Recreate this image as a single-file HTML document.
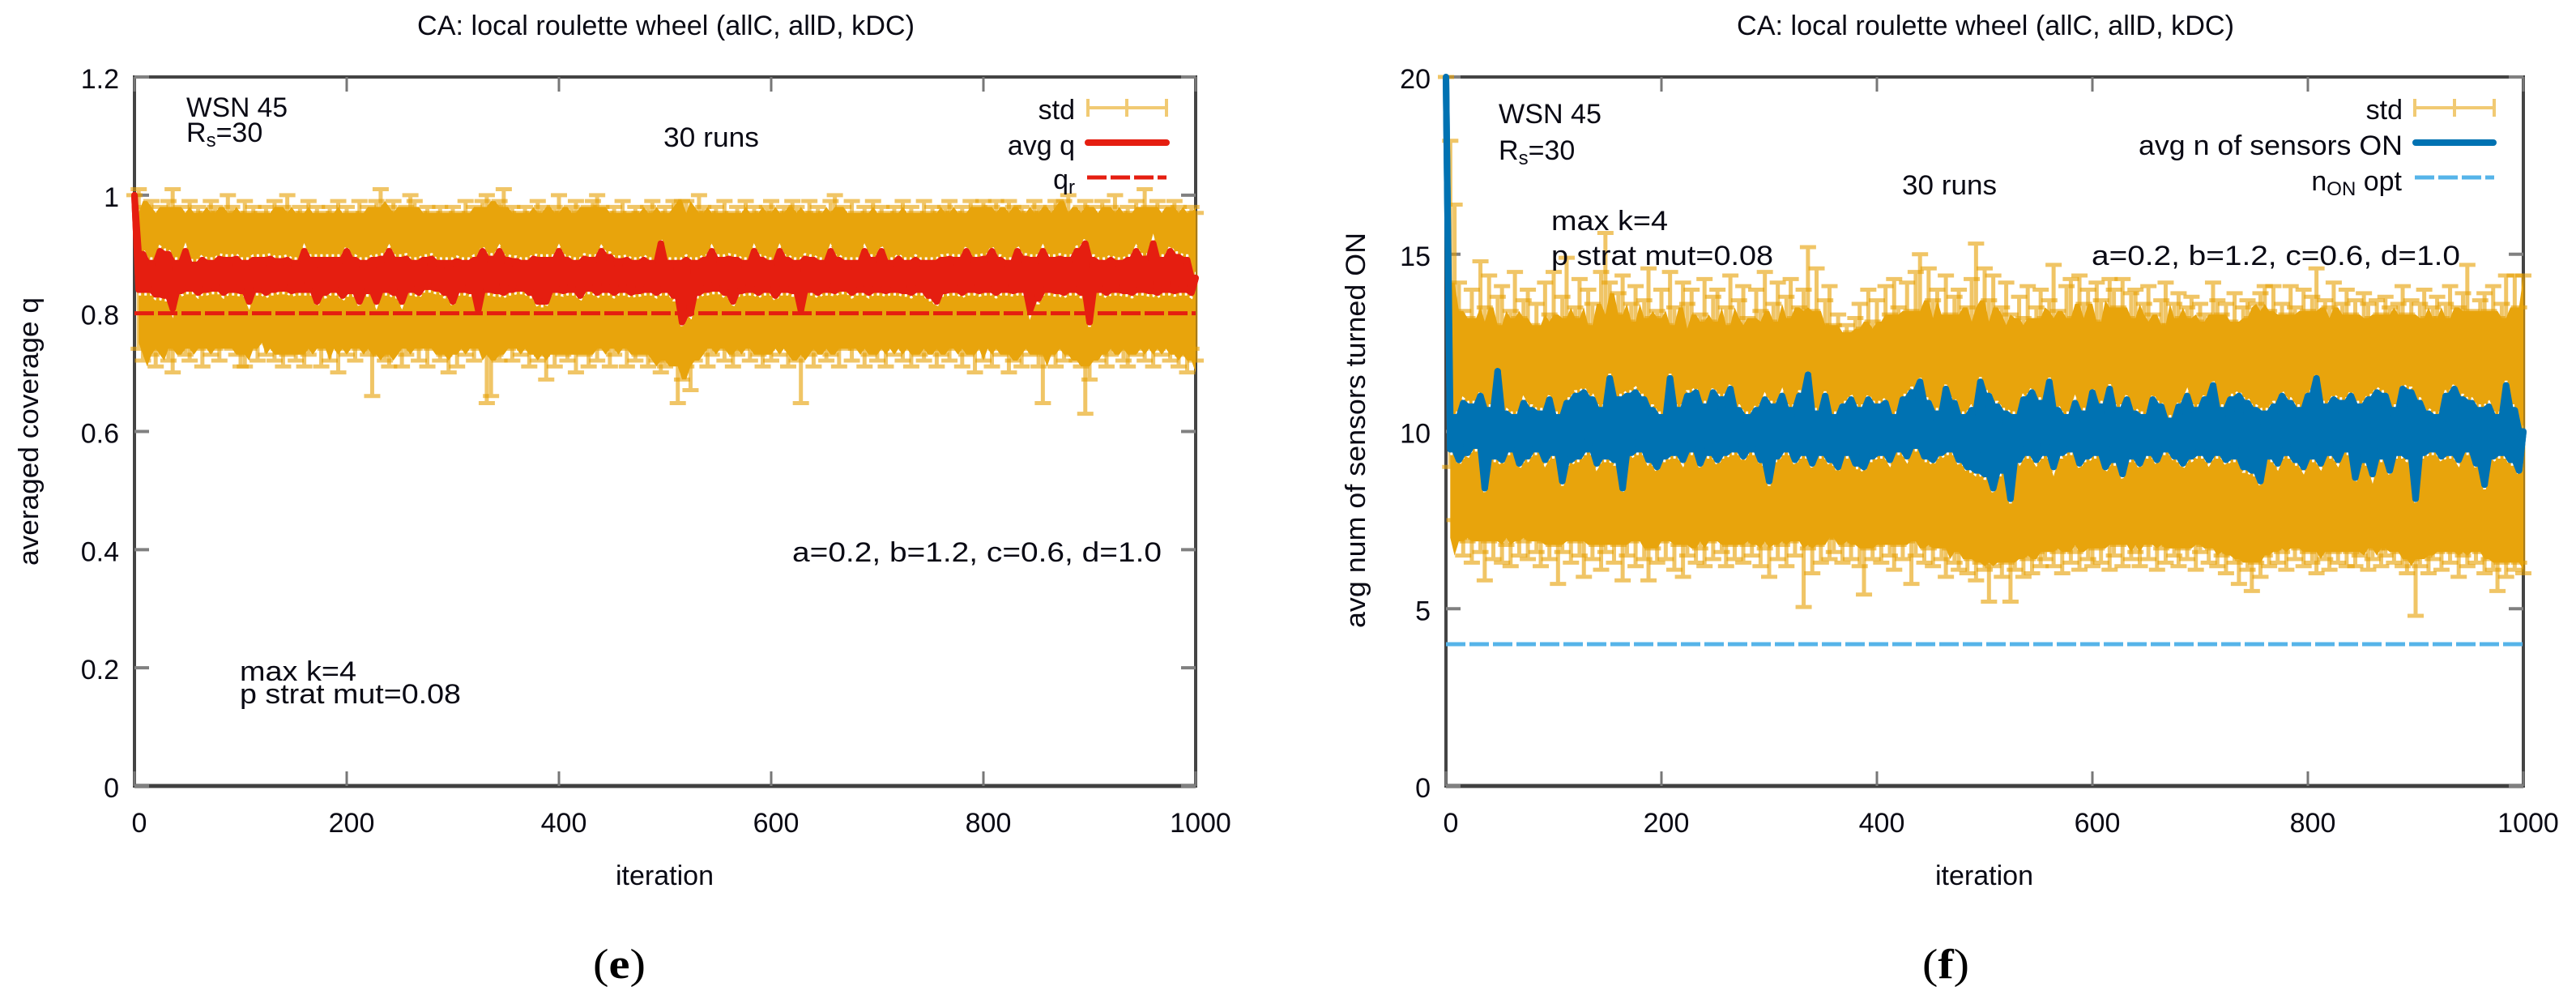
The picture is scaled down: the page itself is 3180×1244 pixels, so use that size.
<!DOCTYPE html>
<html lang="en">
<head>
<meta charset="utf-8">
<title>CA: local roulette wheel (allC, allD, kDC)</title>
<style>
html,body{margin:0;padding:0;background:#fff;}
svg{display:block;}
text{font-family:"Liberation Sans",sans-serif;font-size:34px;fill:#0a0a14;}
.cap{font-family:"Liberation Serif",serif;font-size:52px;fill:#000;}
</style>
</head>
<body>
<svg id="chart" xmlns="http://www.w3.org/2000/svg" width="3180" height="1244" viewBox="0 0 3180 1244">
<rect x="0" y="0" width="3180" height="1244" fill="#fff"/>
<g id="panelE"></g>
<g id="panelF"></g>

<g>
<text x="515" y="43" textLength="614" lengthAdjust="spacingAndGlyphs">CA: local roulette wheel (allC, allD, kDC)</text>
<text transform="translate(47,698) rotate(-90)" textLength="331" lengthAdjust="spacingAndGlyphs">averaged coverage q</text>
<text x="760" y="1092" textLength="121" lengthAdjust="spacingAndGlyphs">iteration</text>
<text x="230" y="144" textLength="125" lengthAdjust="spacingAndGlyphs">WSN 45</text>
<text x="230" y="175">R<tspan font-size="24" dy="6">s</tspan><tspan dy="-6">=30</tspan></text>
<text x="819" y="181" textLength="118" lengthAdjust="spacingAndGlyphs">30 runs</text>
<text x="978" y="693" textLength="456" lengthAdjust="spacingAndGlyphs">a=0.2, b=1.2, c=0.6, d=1.0</text>
<text x="296" y="840" textLength="144" lengthAdjust="spacingAndGlyphs">max k=4</text>
<text x="296" y="868" textLength="273" lengthAdjust="spacingAndGlyphs">p strat mut=0.08</text>
<text x="1327" y="147" text-anchor="end">std</text>
<text x="1327" y="191" text-anchor="end">avg q</text>
<text x="1327" y="233" text-anchor="end">q<tspan font-size="24" dy="6">r</tspan></text>
<g stroke="#e69f00" stroke-opacity=".55" stroke-width="4" fill="none"><path d="M1343 133H1440M1343 122V144M1391 122V144M1440 122V144"/></g>
<line x1="1343" y1="176" x2="1440" y2="176" stroke="#e51e10" stroke-width="8" stroke-linecap="round"/>
<line x1="1342" y1="219" x2="1440" y2="219" stroke="#e51e10" stroke-width="5" stroke-dasharray="24 5"/>
<text class="cap" x="732" y="1207" textLength="65" lengthAdjust="spacingAndGlyphs">(<tspan font-weight="bold">e</tspan>)</text>
</g>

<g>
<text x="2144" y="43" textLength="614" lengthAdjust="spacingAndGlyphs">CA: local roulette wheel (allC, allD, kDC)</text>
<text transform="translate(1685,775) rotate(-90)" textLength="488" lengthAdjust="spacingAndGlyphs">avg num of sensors turned ON</text>
<text x="2389" y="1092" textLength="121" lengthAdjust="spacingAndGlyphs">iteration</text>
<text x="1850" y="152" textLength="127" lengthAdjust="spacingAndGlyphs">WSN 45</text>
<text x="1850" y="197">R<tspan font-size="24" dy="6">s</tspan><tspan dy="-6">=30</tspan></text>
<text x="2348" y="240" textLength="117" lengthAdjust="spacingAndGlyphs">30 runs</text>
<text x="1915" y="284" textLength="144" lengthAdjust="spacingAndGlyphs">max k=4</text>
<text x="1915" y="327" textLength="274" lengthAdjust="spacingAndGlyphs">p strat mut=0.08</text>
<text x="2582" y="327" textLength="455" lengthAdjust="spacingAndGlyphs">a=0.2, b=1.2, c=0.6, d=1.0</text>
<text x="2966" y="147" text-anchor="end">std</text>
<text x="2966" y="191" text-anchor="end" textLength="326" lengthAdjust="spacingAndGlyphs">avg n of sensors ON</text>
<text x="2965" y="235" text-anchor="end">n<tspan font-size="24" dy="6">ON</tspan><tspan dy="-6"> opt</tspan></text>
<g stroke="#e69f00" stroke-opacity=".55" stroke-width="4" fill="none"><path d="M2981 133H3079M2981 122V144M3030 122V144M3079 122V144"/></g>
<line x1="2982" y1="176" x2="3078" y2="176" stroke="#0072b2" stroke-width="8" stroke-linecap="round"/>
<line x1="2981" y1="219" x2="3079" y2="219" stroke="#56b4e9" stroke-width="5" stroke-dasharray="24 5"/>
<text class="cap" x="2373" y="1207" textLength="58" lengthAdjust="spacingAndGlyphs">(<tspan font-weight="bold">f</tspan>)</text>
</g>
</svg>

<script>
// Iterations between consecutive stored samples
const sampleStep = 4;
// Leading samples that belong to the start-up transient
const transientSamples = 3;

const xTickValues = [0, 200, 400, 600, 800, 1000];
const xTickLabels = ['0', '200', '400', '600', '800', '1000'];

const yTickValuesQ = [0, 0.2, 0.4, 0.6, 0.8, 1, 1.2];
const yTickLabelsQ = ['0', '0.2', '0.4', '0.6', '0.8', '1', '1.2'];
const yTickValuesN = [0, 5, 10, 15, 20];
const yTickLabelsN = ['0', '5', '10', '15', '20'];

const targetQ = [0.8];
const optimalN = [4];

const avgQ = [
1.0,.84,.90,.84,.885,.832,.905,.83,.90,.808,
.885,.838,.905,.842,.882,.835,.89,.84,.885,.842,
.892,.835,.89,.84,.892,.838,.885,.82,.89,.84,
.89,.835,.892,.84,.888,.842,.89,.838,.885,.84,
.905,.84,.89,.82,.89,.835,.89,.84,.89,.83,
.905,.838,.89,.82,.885,.838,.89,.82,.892,.84,
.905,.835,.89,.82,.892,.84,.885,.835,.89,.845,
.892,.842,.885,.835,.885,.82,.888,.84,.885,.838,
.89,.805,.905,.84,.892,.838,.905,.835,.89,.84,
.888,.842,.885,.835,.892,.82,.89,.82,.89,.84,
.905,.838,.89,.84,.885,.83,.892,.842,.89,.835,
.905,.84,.895,.835,.888,.84,.89,.835,.885,.838,
.89,.84,.885,.835,.918,.84,.885,.83,.885,.785,
.89,.80,.885,.835,.89,.84,.905,.842,.89,.835,
.892,.82,.89,.838,.885,.84,.905,.835,.89,.84,
.885,.83,.905,.84,.89,.838,.885,.805,.892,.84,
.89,.835,.885,.84,.905,.838,.89,.842,.885,.835,
.885,.84,.905,.835,.89,.84,.905,.838,.885,.84,
.892,.838,.885,.835,.89,.84,.885,.83,.885,.82,
.89,.838,.892,.84,.89,.835,.905,.84,.89,.838,
.892,.84,.905,.835,.89,.84,.885,.838,.905,.84,
.892,.805,.89,.825,.905,.84,.89,.838,.892,.835,
.89,.84,.905,.835,.918,.785,.89,.84,.885,.835,
.89,.84,.885,.838,.89,.835,.905,.84,.892,.838,
.918,.835,.89,.84,.905,.838,.895,.84,.89,.835,.86
];

const highQ = [
1.0,1.01,.98,.97,.99,.96,.98,.97,.99,1.01,
.97,.98,.96,.99,.97,.98,.96,.97,.99,.98,
.97,.96,1.0,.98,.97,.96,.99,.97,.98,.96,
.97,.98,.96,.99,.97,.98,1.0,.97,.96,.98,
.97,.99,.96,.98,.97,.96,.98,.97,.99,.96,
.98,.97,.96,.99,.97,.98,.96,.99,1.01,.97,
.98,.99,.97,.96,.98,1.0,.99,.97,.96,.98,
.97,.96,.98,.97,.96,.98,.97,.96,.99,.97,
.98,.96,.99,1.0,.97,.98,.99,1.01,.97,.98,
.96,.97,.98,.96,.97,.99,.98,.96,.97,.98,
1.0,.97,.96,.98,.99,.97,.96,.98,.99,1.0,
.98,.97,.96,.98,.97,.99,.96,.97,.98,.97,
.96,.98,.99,.97,.96,.98,.97,.99,.96,.99,
.99,.96,.97,1.0,.98,.97,.96,.98,.97,.99,
.96,.97,.98,.96,.99,.97,.98,.96,.97,.98,
.99,.97,.96,.98,.97,.99,.98,.96,.97,.99,
.97,.98,.96,.97,.99,1.0,.97,.98,.96,.99,
.97,.96,.98,.97,.99,.96,.98,.97,.96,.98,
.97,.99,.96,.98,.97,.96,.99,.97,.98,.96,
.97,.98,.99,.97,.96,.98,.97,.99,.96,.98,
.99,.97,.98,.99,.97,.96,.99,.98,.97,.98,
.96,.97,.99,.98,.97,.96,.98,.99,.97,.99,
1.0,.97,.96,.98,.99,.97,.98,.96,.99,.97,
.98,1.0,.97,.96,.98,.97,.99,.96,1.01,.98,
.97,.99,.96,.98,.97,.99,.98,.96,.97,.98,.97
];

const lowQ = [
1.0,.74,.72,.75,.73,.71,.74,.76,.72,.70,
.74,.75,.73,.72,.76,.74,.71,.75,.73,.74,
.72,.75,.76,.74,.73,.71,.71,.74,.75,.72,
.76,.73,.75,.72,.74,.71,.73,.75,.72,.74,
.71,.73,.76,.75,.71,.74,.72,.76,.70,.74,
.73,.75,.72,.74,.76,.73,.66,.75,.73,.72,
.71,.74,.75,.71,.73,.76,.74,.72,.75,.71,
.74,.76,.72,.73,.70,.75,.71,.74,.73,.76,
.72,.74,.75,.648,.66,.73,.72,.75,.74,.72,
.76,.73,.74,.71,.75,.72,.73,.688,.74,.71,
.75,.73,.72,.74,.70,.76,.73,.71,.75,.72,
.74,.75,.71,.73,.76,.74,.71,.75,.72,.73,
.76,.71,.74,.72,.70,.71,.73,.72,.648,.688,
.71,.67,.72,.74,.75,.71,.73,.76,.74,.72,
.75,.71,.73,.74,.76,.72,.75,.73,.71,.74,
.72,.76,.73,.75,.71,.74,.72,.648,.75,.73,
.71,.74,.76,.72,.73,.75,.71,.74,.76,.72,
.74,.75,.71,.73,.76,.72,.74,.71,.75,.73,
.76,.72,.74,.71,.75,.73,.72,.76,.74,.71,
.73,.75,.72,.74,.76,.71,.73,.75,.70,.74,
.72,.75,.71,.74,.73,.76,.70,.72,.75,.71,
.74,.73,.76,.71,.648,.73,.75,.71,.74,.72,
.75,.73,.72,.71,.63,.688,.74,.72,.75,.71,
.73,.76,.74,.72,.71,.75,.73,.74,.72,.76,
.71,.74,.73,.75,.72,.76,.71,.73,.70,.74,.72
];

const avgN = [
20,9.5,10.4,9.2,10.8,9.4,10.7,9.6,11.0,8.4,
10.6,9.3,11.7,9.2,10.5,9.5,10.4,9.1,10.8,9.3,
10.6,9.5,10.5,9.2,10.9,9.4,10.4,8.6,10.8,9.2,
11.0,9.3,11.1,9.5,10.9,9.1,10.6,9.3,11.5,9.2,
10.9,8.4,11.0,9.4,11.1,9.5,10.9,9.2,10.6,9.0,
10.4,9.3,11.5,9.4,10.6,9.2,11.0,9.5,11.1,9.1,
10.7,9.4,11.1,9.2,10.9,9.4,11.2,9.5,10.6,9.3,
10.4,9.5,10.6,9.2,10.9,8.6,10.7,9.3,11.0,9.5,
10.6,9.2,11.0,9.4,11.6,9.1,10.5,9.4,11.0,9.2,
10.4,9.0,10.7,9.4,10.9,9.1,10.6,9.0,10.9,9.3,
10.7,9.4,10.8,9.2,10.4,9.5,10.9,9.3,11.1,9.6,
11.4,9.3,10.8,9.2,10.5,9.4,11.2,9.5,10.8,9.2,
10.4,9.0,10.6,8.9,11.4,8.8,11.0,8.4,10.7,8.9,
10.5,8.1,10.4,9.2,10.9,9.4,11.1,9.2,10.8,9.4,
11.4,9.0,10.6,9.4,10.4,9.5,10.8,9.1,10.5,9.3,
11.1,9.4,10.7,9.0,11.2,9.2,10.6,8.8,10.9,9.3,
10.5,9.1,10.4,9.4,10.9,9.2,10.7,9.5,10.3,9.3,
10.7,9.1,11.0,9.3,10.6,9.4,10.9,9.2,11.3,9.4,
10.6,9.2,10.9,9.3,11.0,9.0,10.8,8.9,10.6,8.6,
10.5,9.3,10.7,9.1,11.0,9.4,10.8,9.2,10.6,9.0,
11.0,9.3,11.5,9.1,10.7,9.4,10.9,9.2,10.8,9.5,
11.0,8.7,10.7,9.2,10.9,8.8,11.1,9.3,11.0,8.9,
10.6,9.4,11.2,9.3,11.1,8.1,10.8,9.4,10.5,9.5,
10.4,9.3,11.0,9.4,11.2,9.2,10.9,9.5,10.8,9.1,
10.6,8.5,10.7,9.3,10.4,9.4,11.3,9.2,10.6,8.9,10.0
];

const highN = [
20,18.2,16.4,14.2,13.4,13.2,14.0,13.1,14.8,13.5,
14.4,13.0,13.8,14.1,12.9,13.4,14.5,13.2,13.7,14.0,
13.0,13.6,12.9,14.2,13.3,14.5,13.1,13.8,14.9,13.2,
13.5,14.3,13.0,14.0,13.6,12.9,14.5,15.6,14.2,13.3,
13.9,14.4,13.1,13.6,14.1,12.8,13.7,14.6,13.2,13.4,
14.0,13.0,14.5,13.5,12.9,14.2,13.6,14.0,12.9,13.3,
14.3,13.1,13.8,14.0,12.8,13.5,14.4,13.0,13.7,14.1,
13.2,12.9,14.0,13.4,14.5,13.1,13.6,14.2,13.0,13.8,
14.3,13.2,13.5,14.0,15.2,13.4,14.6,13.0,13.7,14.1,
13.0,13.3,12.7,13.0,12.8,13.2,13.6,12.9,14.0,13.1,
13.7,12.9,14.1,13.3,14.3,13.5,13.0,14.2,13.4,14.5,
15.0,13.2,14.6,13.7,14.0,13.0,14.4,13.3,13.8,14.0,
12.9,13.5,14.3,15.3,13.1,14.6,13.7,14.4,13.0,13.5,
14.2,13.3,12.9,13.8,13.2,14.1,13.0,13.5,14.0,13.2,
13.7,14.7,13.4,13.0,14.1,14.3,13.2,14.4,13.6,14.0,
13.1,14.2,13.7,13.0,14.3,14.0,13.5,14.3,13.2,13.9,
14.0,13.1,13.6,14.1,13.3,13.0,13.7,14.2,13.0,13.6,
13.9,13.2,13.5,13.8,13.1,13.6,13.3,13.0,14.2,13.7,
13.3,13.6,13.1,13.9,13.0,13.5,13.7,13.2,13.6,13.9,
14.1,13.4,14.1,13.0,13.6,13.3,14.1,13.5,13.1,14.0,
13.4,13.8,14.6,13.2,13.7,13.5,14.2,13.1,13.6,14.0,
13.3,13.7,13.0,13.9,13.6,13.2,13.7,13.3,13.8,13.5,
13.0,13.6,14.1,13.3,13.7,13.1,13.6,14.0,13.2,13.5,
13.8,13.2,13.6,14.1,13.0,13.5,13.9,14.7,13.4,13.1,
13.7,13.9,13.4,14.1,13.2,13.6,14.4,13.0,14.4,13.5,14.4
];

const lowN = [
20,9.0,7.5,7.0,6.5,6.9,6.3,7.0,6.6,5.8,
6.9,6.4,7.0,6.3,6.8,6.2,7.1,6.5,6.9,6.4,
7.0,6.6,6.2,6.9,6.4,6.8,5.7,6.6,7.0,6.3,
6.9,6.5,5.9,7.0,6.4,6.8,6.1,6.6,7.0,6.3,
6.8,5.8,6.5,6.9,6.2,7.0,6.4,5.8,6.7,6.3,
6.9,6.4,7.0,6.1,6.8,5.9,6.5,7.0,6.3,6.7,
6.2,6.9,6.4,7.1,6.6,6.2,6.8,6.4,7.0,6.3,
6.8,6.5,6.9,6.2,6.7,5.9,7.0,6.4,6.8,6.2,
6.9,6.5,7.0,5.05,6.7,6.0,6.8,6.3,7.0,6.4,
6.6,7.0,6.3,6.8,6.4,6.9,6.2,5.4,6.7,6.4,
6.8,6.3,7.0,6.5,6.1,6.8,6.4,6.9,5.7,6.5,
7.0,6.3,6.7,6.2,6.8,6.4,5.9,6.7,6.3,6.1,
6.6,6.0,6.4,5.8,6.3,6.1,5.2,6.2,6.5,5.9,
6.3,5.2,6.1,6.5,5.9,6.4,6.0,6.6,6.2,6.4,
6.7,6.2,6.6,6.0,6.8,6.3,6.6,6.1,6.8,6.4,
6.2,6.7,6.3,6.9,6.1,6.5,6.8,6.2,6.9,6.4,
6.6,6.2,6.8,6.4,6.9,6.1,6.7,6.3,6.8,6.5,
6.2,6.7,6.4,6.9,6.1,6.6,6.8,6.3,6.7,6.2,
6.5,6.0,6.6,6.3,5.7,6.4,6.1,5.5,6.3,5.9,
6.5,6.2,6.7,6.3,6.6,6.1,6.8,6.4,6.7,6.2,
6.6,6.3,6.0,6.7,6.4,6.1,6.6,6.3,6.8,6.2,
6.6,6.2,6.5,6.8,6.1,6.4,6.7,6.2,6.5,6.7,
6.3,6.6,6.2,6.0,6.4,4.8,6.2,6.5,6.0,6.4,
6.6,6.1,6.7,6.3,6.6,5.9,6.5,6.2,6.7,6.3,
6.6,6.0,6.4,6.1,5.5,6.3,5.9,6.4,6.1,6.3,6.0
];

const NS = 'http://www.w3.org/2000/svg';

function linearScale(d0, d1, r0, r1) {
  return function (v) { return r0 + (v - d0) / (d1 - d0) * (r1 - r0); };
}

function renderPanel(root, suffix, box, yMax, yTicks, yLabels, avg, high, low, refValue, avgColor, refColor, coreRank) {
  const sx = linearScale(0, 1000, box.left, box.right);
  const sy = linearScale(0, yMax, box.bottom, box.top);

  const frame = document.createElementNS(NS, 'rect');
  
  
  frame.setAttribute('x', box.left);
  frame.setAttribute('y', box.top);
  frame.setAttribute('width', box.right - box.left);
  frame.setAttribute('height', box.bottom - box.top);
  frame.setAttribute('fill', 'none');
  frame.setAttribute('stroke', '#444');
  frame.setAttribute('stroke-width', '4');
  root.appendChild(frame);

  const baseLine = document.createElementNS(NS, 'line');
  
  
  baseLine.setAttribute('x1', box.left);
  baseLine.setAttribute('x2', box.right);
  baseLine.setAttribute('y1', box.bottom);
  baseLine.setAttribute('y2', box.bottom);
  baseLine.setAttribute('stroke', '#404040');
  baseLine.setAttribute('stroke-width', '5');
  root.appendChild(baseLine);

  xTickValues.forEach(function (v, i) {
    const x = sx(v);
    const tick = document.createElementNS(NS, 'path');
    
    
    tick.setAttribute('d', 'M' + x + ' ' + box.top + 'v18M' + x + ' ' + box.bottom + 'v-18');
    tick.setAttribute('stroke', '#777');
    tick.setAttribute('stroke-width', '3');
    tick.setAttribute('fill', 'none');
    root.appendChild(tick);
    const label = document.createElementNS(NS, 'text');
    
    
    label.setAttribute('x', x + 6);
    label.setAttribute('y', 1027);
    label.setAttribute('text-anchor', 'middle');
    label.textContent = xTickLabels[i];
    root.appendChild(label);
  });

  yTicks.forEach(function (v, i) {
    const y = sy(v);
    const tick = document.createElementNS(NS, 'path');
    
    
    tick.setAttribute('d', 'M' + box.left + ' ' + y + 'h18M' + box.right + ' ' + y + 'h-18');
    tick.setAttribute('stroke', '#808080');
    tick.setAttribute('stroke-width', '4');
    tick.setAttribute('fill', 'none');
    root.appendChild(tick);
    const label = document.createElementNS(NS, 'text');
    
    
    label.setAttribute('x', box.left - 19);
    label.setAttribute('y', y + 14);
    label.setAttribute('text-anchor', 'end');
    label.textContent = yLabels[i];
    root.appendChild(label);
  });

  const bars = document.createElementNS(NS, 'g');
  
  
  root.appendChild(bars);
  high.forEach(function (h, i) {
    const x = sx(i * sampleStep);
    const yH = sy(h);
    const yL = sy(low[i]);
    const bar = document.createElementNS(NS, 'path');
    
    
    bar.setAttribute('d', 'M' + x + ' ' + yH + 'V' + yL + 'M' + (x - 10) + ' ' + yH + 'h20M' + (x - 10) + ' ' + yL + 'h20');
    bar.setAttribute('stroke', '#e69f00');
    bar.setAttribute('stroke-opacity', '0.6');
    bar.setAttribute('stroke-width', '5');
    bar.setAttribute('fill', 'none');
    bars.appendChild(bar);
  });

  // Where neighbouring error bars overlap the picture saturates to solid orange
  const coreTop = [];
  const coreBottom = [];
  for (let i = 1; i < high.length; i++) {
    const tops = [];
    const bottoms = [];
    for (let j = Math.max(i - 2, transientSamples); j <= Math.min(i + 2, high.length - 1); j++) {
      tops.push(high[j]);
      bottoms.push(low[j]);
    }
    tops.sort(function (a, b) { return a - b; });
    bottoms.sort(function (a, b) { return b - a; });
    const rank = Math.min(coreRank, tops.length - 1);
    coreTop.push(sx(i * sampleStep).toFixed(1) + ',' + sy(tops[rank]).toFixed(1));
    coreBottom.unshift(sx(i * sampleStep).toFixed(1) + ',' + sy(bottoms[rank]).toFixed(1));
  }
  const core = document.createElementNS(NS, 'polygon');
  
  
  core.setAttribute('points', coreTop.concat(coreBottom).join(' '));
  core.setAttribute('fill', '#e8a40c');
  root.appendChild(core);

  // Envelope of the noisy average curve
  const upperPts = [];
  const lowerPts = [];
  const upperDots = [];
  const lowerDots = [];
  const dotGap = 5.5;
  avg.forEach(function (v, i) {
    const prev = i > 0 ? avg[i - 1] : v;
    const next = i < avg.length - 1 ? avg[i + 1] : v;
    const up = Math.max(v, Math.min(prev, next));
    const lo = Math.min(v, Math.max(prev, next));
    const x = sx(i * sampleStep).toFixed(1);
    upperPts.push(x + ',' + sy(up).toFixed(1));
    lowerPts.unshift(x + ',' + sy(lo).toFixed(1));
    if (i > 0) {
      upperDots.push(x + ',' + (sy(up) - dotGap).toFixed(1));
      lowerDots.push(x + ',' + (sy(lo) + dotGap).toFixed(1));
    }
  });

  const upperOutline = document.createElementNS(NS, 'polyline');
  
  
  upperOutline.setAttribute('points', upperDots.join(' '));
  upperOutline.setAttribute('fill', 'none');
  upperOutline.setAttribute('stroke', '#fff');
  upperOutline.setAttribute('stroke-width', '3.5');
  upperOutline.setAttribute('stroke-dasharray', '3 4');
  root.appendChild(upperOutline);

  const lowerOutline = document.createElementNS(NS, 'polyline');
  
  
  lowerOutline.setAttribute('points', lowerDots.join(' '));
  lowerOutline.setAttribute('fill', 'none');
  lowerOutline.setAttribute('stroke', '#fff');
  lowerOutline.setAttribute('stroke-width', '3.5');
  lowerOutline.setAttribute('stroke-dasharray', '3 4');
  root.appendChild(lowerOutline);

  const band = document.createElementNS(NS, 'polygon');
  
  
  band.setAttribute('points', upperPts.concat(lowerPts).join(' '));
  band.setAttribute('fill', avgColor);
  band.setAttribute('stroke', avgColor);
  band.setAttribute('stroke-width', '8');
  band.setAttribute('stroke-linejoin', 'round');
  root.appendChild(band);

  const line = document.createElementNS(NS, 'polyline');
  
  
  line.setAttribute('points', avg.map(function (v, i) {
    return sx(i * sampleStep).toFixed(1) + ',' + sy(v).toFixed(1);
  }).join(' '));
  line.setAttribute('fill', 'none');
  line.setAttribute('stroke', avgColor);
  line.setAttribute('stroke-width', '8');
  line.setAttribute('stroke-linejoin', 'round');
  root.appendChild(line);

  const ref = document.createElementNS(NS, 'line');
  
  
  ref.setAttribute('x1', sx(0));
  ref.setAttribute('x2', sx(1000));
  ref.setAttribute('y1', sy(refValue));
  ref.setAttribute('y2', sy(refValue));
  ref.setAttribute('stroke', refColor);
  ref.setAttribute('stroke-width', '5');
  ref.setAttribute('stroke-dasharray', '24 5');
  root.appendChild(ref);
}

renderPanel(document.getElementById('panelE'), 'e',
  {left: 166, right: 1476, top: 95, bottom: 970},
  1.2, yTickValuesQ, yTickLabelsQ, avgQ, highQ, lowQ, targetQ[0], '#e51e10', '#e51e10', 2);

renderPanel(document.getElementById('panelF'), 'f',
  {left: 1785, right: 3115, top: 95, bottom: 970},
  20, yTickValuesN, yTickLabelsN, avgN, highN, lowN, optimalN[0], '#0072b2', '#56b4e9', 1);
</script>
</body>
</html>
